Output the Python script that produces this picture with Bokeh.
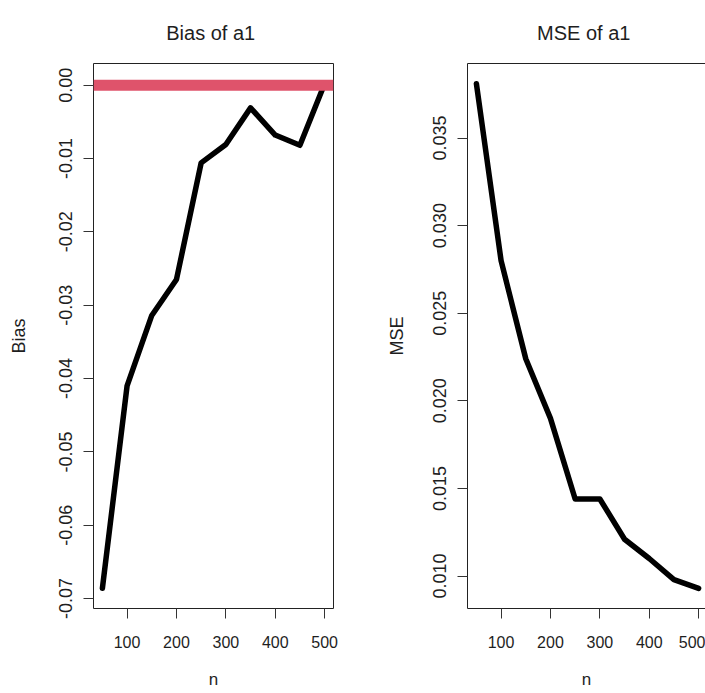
from bokeh.plotting import figure
from bokeh.layouts import row
from bokeh.models import Range1d, FixedTicker, Span, LinearAxis
from bokeh.embed import file_html
from bokeh.resources import INLINE

# Simulation results by sample size n
n_values = [50, 100, 150, 200, 250, 300, 350, 400, 450, 500]
bias_a1 = [-0.0686, -0.0410, -0.0314, -0.0265, -0.0106, -0.0081, -0.0031, -0.0068, -0.0082, 0.0002]
mse_a1 = [0.0381, 0.0280, 0.0224, 0.0190, 0.0144, 0.0144, 0.0121, 0.0110, 0.0098, 0.0093]

# Axis ticks and their labels
x_ticks = [100, 200, 300, 400, 500]
x_tick_labels = ["100", "200", "300", "400", "500"]
bias_ticks = [0.0, -0.01, -0.02, -0.03, -0.04, -0.05, -0.06, -0.07]
bias_tick_labels = ["0.00", "-0.01", "-0.02", "-0.03", "-0.04", "-0.05", "-0.06", "-0.07"]
mse_ticks = [0.010, 0.015, 0.020, 0.025, 0.030, 0.035]
mse_tick_labels = ["0.010", "0.015", "0.020", "0.025", "0.030", "0.035"]

FONT = "Liberation Sans"
TEXT = "#1e1e1e"
LINE_RED = "#DF536B"
X_LO, X_HI = 32, 518


def padded(values, frac=0.04):
    lo, hi = min(values), max(values)
    pad = (hi - lo) * frac
    return lo - pad, hi + pad


def style_axes(p, xt, xl, yt, yl, ylab):
    p.grid.visible = False
    p.xaxis.ticker = FixedTicker(ticks=xt)
    p.xaxis.major_label_overrides = dict(zip(xt, xl))
    p.yaxis.ticker = FixedTicker(ticks=yt)
    p.yaxis.major_label_overrides = dict(zip(yt, yl))
    for ax in (p.xaxis[0], p.yaxis[0]):
        ax.major_tick_in = 0
        ax.major_tick_out = 10
        ax.minor_tick_line_color = None
        ax.major_tick_line_color = "#333333"
        ax.major_label_text_font = FONT
        ax.major_label_text_color = TEXT
        ax.axis_label_text_font = FONT
        ax.axis_label_text_color = TEXT
        ax.axis_label_text_font_style = "normal"
    p.xaxis.axis_label = "n"
    p.xaxis.major_label_text_font_size = "16px"
    p.xaxis.axis_label_text_font_size = "17px"
    p.xaxis.major_label_standoff = 17
    p.xaxis.axis_label_standoff = 19
    p.yaxis.axis_label = ylab
    p.yaxis.major_label_orientation = "vertical"
    p.yaxis.major_label_text_font_size = "18px"
    p.yaxis.axis_label_text_font_size = "18px"
    p.yaxis.major_label_standoff = 11


def style_title(p, text):
    p.title.text = text
    p.title.align = "center"
    p.title.vertical_align = "bottom"
    p.title.text_font = FONT
    p.title.text_font_size = "20px"
    p.title.text_font_style = "normal"
    p.title.text_color = TEXT
    p.title.standoff = 39


# Left panel: bias
b_lo, b_hi = padded(bias_a1)
p1 = figure(width=352, height=693, x_range=Range1d(X_LO, X_HI), y_range=Range1d(b_lo, b_hi),
            output_backend="svg", toolbar_location=None,
            min_border_left=93, min_border_right=19, min_border_top=63, min_border_bottom=85)
p1.background_fill_color = "white"
p1.border_fill_color = "white"
p1.outline_line_color = "#222222"
p1.outline_line_width = 1
style_title(p1, "Bias of  a1")
style_axes(p1, x_ticks, x_tick_labels, bias_ticks, bias_tick_labels, "Bias")
p1.xaxis.axis_line_color = None
p1.yaxis.axis_line_color = None
p1.yaxis.axis_label_standoff = 28
p1.line(n_values, bias_a1, line_color="black", line_width=5.5, line_cap="round", line_join="round")
p1.add_layout(Span(location=0, dimension="width", line_color=LINE_RED, line_width=11))

# Right panel: MSE (box continues past the right edge)
m_lo, m_hi = padded(mse_a1)
x2_hi = X_LO + (X_HI - X_LO) * 238 / 240
p2 = figure(width=353, height=693, x_range=Range1d(X_LO, x2_hi), y_range=Range1d(m_lo, m_hi),
            output_backend="svg", toolbar_location=None,
            min_border_left=115, min_border_right=0, min_border_top=63, min_border_bottom=85)
p2.background_fill_color = "white"
p2.border_fill_color = "white"
p2.outline_line_color = None
style_title(p2, "MSE of  a1")
style_axes(p2, x_ticks, x_tick_labels, mse_ticks, mse_tick_labels, "MSE")
p2.xaxis.axis_line_color = "#222222"
p2.yaxis.axis_line_color = "#222222"
p2.yaxis.axis_label_standoff = 24
# tick-less axis that draws the top edge of the box
top_edge = LinearAxis(ticker=FixedTicker(ticks=[]), major_tick_in=0, major_tick_out=0,
                      minor_tick_in=0, minor_tick_out=0, axis_line_color="#222222",
                      major_label_standoff=0)
p2.add_layout(top_edge, "above")
p2.line(n_values, mse_a1, line_color="black", line_width=5.5, line_cap="round", line_join="round")

layout = row(p1, p2, spacing=0)
open("out.html", "w").write(file_html(layout, INLINE))
